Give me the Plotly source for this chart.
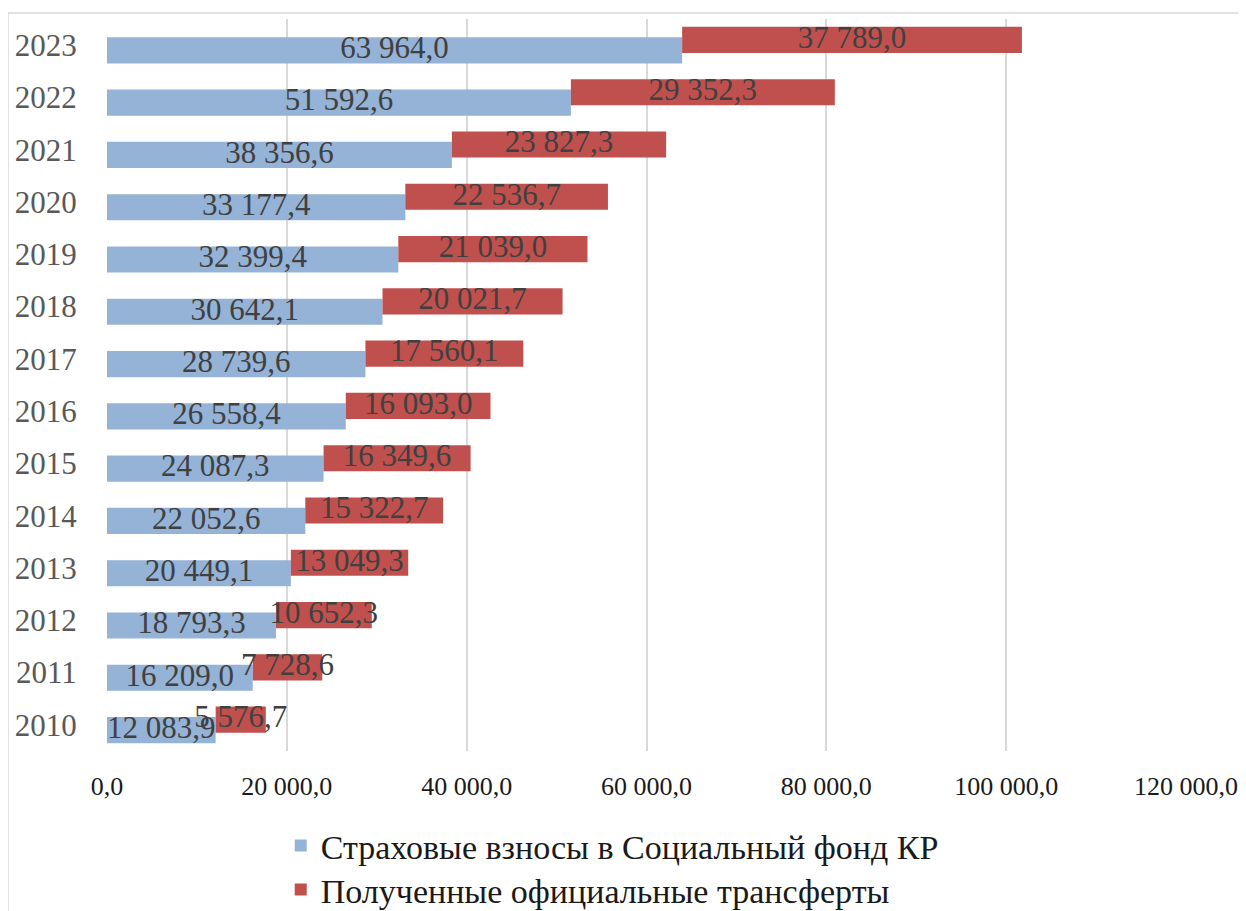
import plotly.graph_objects as go

years = ["2010", "2011", "2012", "2013", "2014", "2015", "2016", "2017", "2018", "2019", "2020", "2021", "2022", "2023"]
contrib = [12083.9, 16209.0, 18793.3, 20449.1, 22052.6, 24087.3, 26558.4, 28739.6, 30642.1, 32399.4, 33177.4, 38356.6, 51592.6, 63964.0]
transfers = [5576.7, 7728.6, 10652.3, 13049.3, 15322.7, 16349.6, 16093.0, 17560.1, 20021.7, 21039.0, 22536.7, 23827.3, 29352.3, 37789.0]
x_ticks = [0, 20000, 40000, 60000, 80000, 100000, 120000]
name_contrib = "Страховые взносы в Социальный фонд КР"
name_transfers = "Полученные официальные трансферты"

BLUE = "#95B3D7"
RED = "#C0504D"
FONT = "Liberation Serif"

def fmt(v):
    s = f"{v:,.1f}"
    return s.replace(",", " ").replace(".", ",")

idx = list(range(len(years)))

fig = go.Figure()
fig.add_trace(go.Bar(
    y=idx, x=contrib, orientation="h", name=name_contrib,
    marker=dict(color=BLUE, line=dict(width=0)),
    width=0.5, offset=-0.35, legend="legend",
))
fig.add_trace(go.Bar(
    y=idx, x=transfers, base=contrib, orientation="h", name=name_transfers,
    marker=dict(color=RED, line=dict(width=0)),
    width=0.5, offset=-0.15, legend="legend2",
))
# data labels on top of all bars
fig.add_trace(go.Scatter(
    x=[c / 2 for c in contrib], y=[i - 0.1 for i in idx], mode="text",
    text=[fmt(v) for v in contrib], textposition="middle center",
    textfont=dict(family=FONT, size=31, color="#404040"),
    showlegend=False, hoverinfo="skip", cliponaxis=False,
))
fig.add_trace(go.Scatter(
    x=[c + t / 2 for c, t in zip(contrib, transfers)], y=[i + 0.1 for i in idx], mode="text",
    text=[fmt(v) for v in transfers], textposition="middle center",
    textfont=dict(family=FONT, size=31, color="#404040"),
    showlegend=False, hoverinfo="skip", cliponaxis=False,
))

fig.update_layout(
    width=1230, height=903,
    margin=dict(l=99, r=52, t=11, b=160, autoexpand=False),
    paper_bgcolor="white", plot_bgcolor="white",
    barmode="overlay",
    font=dict(family=FONT, color="#262626"),
    xaxis=dict(
        range=[0, 120000], tickvals=x_ticks,
        ticktext=[fmt(v) for v in x_ticks],
        showgrid=True, gridcolor="#D9D9D9", gridwidth=1.5,
        zeroline=False, showline=False,
        ticks="outside", ticklen=12, tickcolor="rgba(0,0,0,0)",
        tickfont=dict(family=FONT, size=26, color="#1a1a1a"),
    ),
    yaxis=dict(
        range=[-0.5, 13.5], tickvals=idx, ticktext=years,
        showgrid=False, zeroline=False, showline=False,
        ticks="outside", ticklen=23, tickcolor="rgba(0,0,0,0)",
        tickfont=dict(family=FONT, size=31, color="#595959"),
    ),
    legend=dict(
        x=0.161, y=-0.090, xanchor="left", yanchor="top",
        font=dict(family=FONT, size=34, color="#1a1a1a"),
        bgcolor="rgba(0,0,0,0)",
    ),
    legend2=dict(
        x=0.161, y=-0.150, xanchor="left", yanchor="top",
        font=dict(family=FONT, size=34, color="#1a1a1a"),
        bgcolor="rgba(0,0,0,0)",
    ),
    shapes=[dict(
        type="rect", xref="paper", yref="paper",
        x0=(8 - 107) / 1079, x1=1.2, y0=-0.4, y1=(751 - 13) / 732,
        line=dict(color="#D9D9D9", width=1.5), fillcolor="rgba(0,0,0,0)", layer="below",
    )],
)

fig.write_html("out.html")
